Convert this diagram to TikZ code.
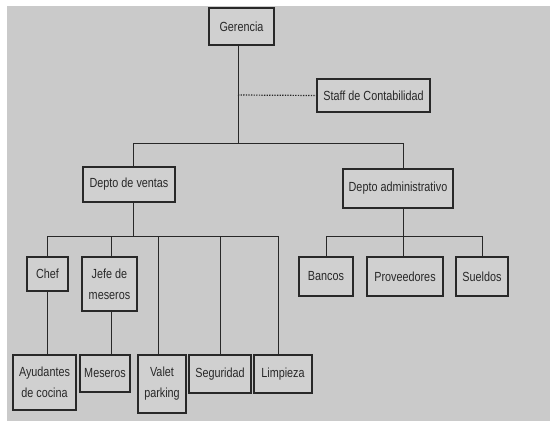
\documentclass[tikz,border=0pt]{standalone}
\usepackage{fontspec}
\setmainfont{Liberation Sans}[FakeStretch=0.82]
\definecolor{bggray}{RGB}{202,202,202}
\definecolor{boxgray}{RGB}{208,208,208}
\definecolor{ink}{RGB}{40,40,40}
\begin{document}
\begin{tikzpicture}[x=1pt,y=-1pt,
  box/.style={draw=ink, line width=1.4pt, fill=boxgray, rectangle, inner sep=1pt,
    align=center, font=\fontsize{13.2}{21}\selectfont, text=ink},
  conn/.style={draw=ink, line width=0.9pt},
  staffline/.style={draw=ink, line width=1.2pt, dash pattern=on 1.3pt off 1.3pt}]
\fill[white] (0,0) rectangle (550,421);
\fill[bggray] (7,6) rectangle (550,421);
\useasboundingbox (0,0) rectangle (550,421);
% nodes
\node[box, minimum width=65pt, minimum height=37pt] (ger) at (241.5,26.5) {Gerencia};
\node[box, minimum width=113pt, minimum height=33pt] (staff) at (373.5,95.5) {Staff de Contabilidad};
\node[box, minimum width=92pt, minimum height=35pt] (ventas) at (129,184.5) {Depto de ventas};
\node[box, minimum width=110pt, minimum height=39pt] (admin) at (398,188.5) {Depto administrativo};
\node[box, minimum width=41pt, minimum height=34pt] (chef) at (47.5,274) {Chef};
\node[box, minimum width=55pt, minimum height=54pt] (jefe) at (109.5,284) {Jefe de\\meseros};
\node[box, minimum width=54pt, minimum height=39pt] (bancos) at (326,276.5) {Bancos};
\node[box, minimum width=76pt, minimum height=39pt] (prov) at (405,276.5) {Proveedores};
\node[box, minimum width=52pt, minimum height=39pt] (sueldos) at (482,276.5) {Sueldos};
\node[box, minimum width=63pt, minimum height=55pt] (ayud) at (44.5,382.5) {Ayudantes\\de cocina};
\node[box, minimum width=50pt, minimum height=37pt] (meseros) at (105,373.5) {Meseros};
\node[box, minimum width=48pt, minimum height=58pt] (valet) at (162,384) {Valet\\parking};
\node[box, minimum width=62pt, minimum height=38pt] (seg) at (220,374) {Seguridad};
\node[box, minimum width=58pt, minimum height=38pt] (limp) at (283,374) {Limpieza};
% bus coordinates
\coordinate (topbus) at (238,143);
\coordinate (staffjoin) at (238,95);
\coordinate (vx) at (133,0);
\coordinate (ax) at (403,0);
\coordinate (vbus) at (0,236);
\coordinate (abus) at (0,236);
\coordinate (chefx) at (47,0);
\coordinate (jefex) at (111,0);
\coordinate (valetx) at (158,0);
\coordinate (segx) at (220,0);
\coordinate (limpx) at (278,0);
% connectors
\draw[conn] (ger.south -| topbus) -- (topbus);
\draw[staffline] (staffjoin) -- (staff.west);
\draw[conn] (ventas.north -| vx) -- (vx |- topbus) -- (ax |- topbus) -- (admin.north -| ax);
\draw[conn] (ventas.south -| vx) -- (vx |- vbus);
\draw[conn] (chef.north -| chefx) -- (chefx |- vbus) -- (limpx |- vbus) -- (limp.north -| limpx);
\draw[conn] (jefe.north -| jefex) -- (jefex |- vbus);
\draw[conn] (valet.north -| valetx) -- (valetx |- vbus);
\draw[conn] (seg.north -| segx) -- (segx |- vbus);
\draw[conn] (chef.south -| chefx) -- (ayud.north -| chefx);
\draw[conn] (jefe.south -| jefex) -- (meseros.north -| jefex);
\draw[conn] (admin.south -| ax) -- (ax |- abus);
\draw[conn] (bancos.north) -- (bancos.north |- abus) -- (sueldos.north |- abus) -- (sueldos.north);
\draw[conn] (prov.north -| ax) -- (ax |- abus);
\end{tikzpicture}
\end{document}
